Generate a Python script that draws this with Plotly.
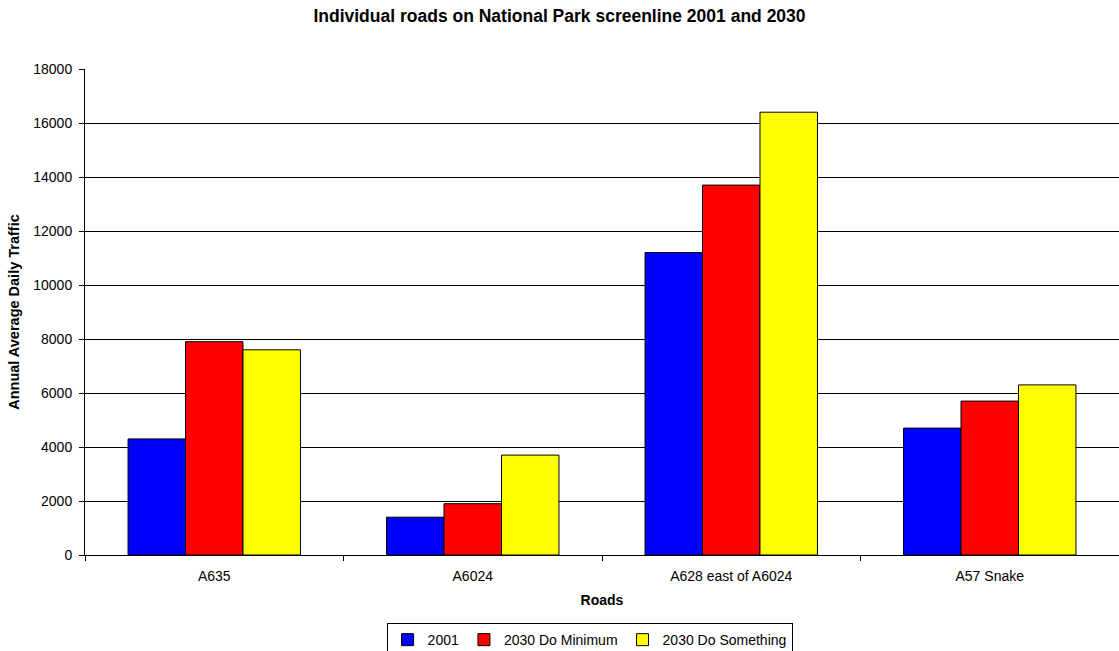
import plotly.graph_objects as go

roads = ["A635", "A6024", "A628 east of A6024", "A57 Snake"]
v2001 = [4300, 1400, 11200, 4700]
v2030_min = [7900, 1900, 13700, 5700]
v2030_some = [7600, 3700, 16400, 6300]
series_names = ["2001", "2030 Do Minimum", "2030 Do Something"]
colors = ["#0000FF", "#FF0000", "#FFFF00"]

fig = go.Figure()
for name, vals, c in zip(series_names, [v2001, v2030_min, v2030_some], colors):
    fig.add_trace(go.Bar(x=roads, y=vals, name=name,
                         marker=dict(color=c, line=dict(color="black", width=1))))

font = "Liberation Sans, Arial, sans-serif"
fig.update_layout(
    width=1119, height=651,
    margin=dict(l=85, r=0, t=69, b=96, autoexpand=False),
    paper_bgcolor="white", plot_bgcolor="white",
    barmode="group", bargap=0.333, bargroupgap=0,
    font=dict(family=font, size=14, color="black"),
    title=dict(text="<b>Individual roads on National Park screenline 2001 and 2030</b>",
               x=0.5, xref="container", xanchor="center", y=0.975, yanchor="middle",
               font=dict(size=17.5, family=font, color="black")),
    showlegend=True,
    legend=dict(orientation="h", x=0.488, xanchor="center", y=-0.175, yanchor="middle",
                bordercolor="black", borderwidth=1, font=dict(size=14, family=font),
                itemwidth=30, tracegroupgap=0),
    xaxis=dict(
        title=dict(text="<b>Roads</b>", font=dict(size=14), standoff=12),
        showline=True, linecolor="black", linewidth=1,
        ticks="outside", ticklen=5, tickcolor="black", tickson="boundaries",
        tickfont=dict(size=14), ticklabelstandoff=8,
    ),
    yaxis=dict(
        title=dict(text="<b>Annual Average Daily Traffic</b>", font=dict(size=14.5), standoff=10),
        range=[0, 18000], dtick=2000, tickformat="d",
        showline=True, linecolor="black", linewidth=1,
        showgrid=True, gridcolor="black", gridwidth=1,
        ticks="outside", ticklen=5, tickcolor="black",
        tickfont=dict(size=14), zeroline=False, ticklabelstandoff=4,
    ),
)

fig.write_html("out.html")
